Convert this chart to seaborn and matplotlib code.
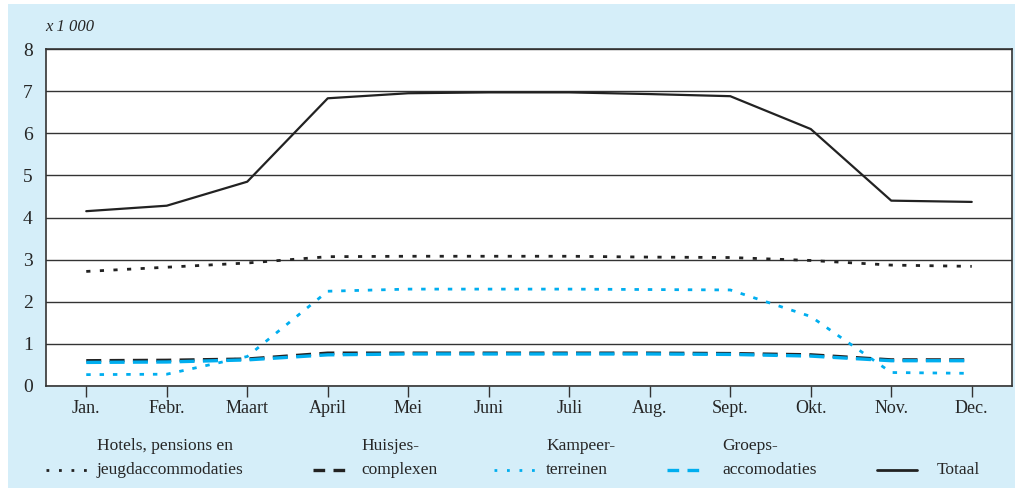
import pandas as pd
import matplotlib.pyplot as plt
import seaborn as sns
from matplotlib.patches import Rectangle
from matplotlib.lines import Line2D

# Data (x 1 000)
maanden = ['Jan.', 'Febr.', 'Maart', 'April', 'Mei', 'Juni', 'Juli', 'Aug.', 'Sept.', 'Okt.', 'Nov.', 'Dec.']
hotels = [2.72, 2.82, 2.92, 3.07, 3.08, 3.08, 3.08, 3.06, 3.05, 2.98, 2.87, 2.84]
huisjes = [0.60, 0.61, 0.64, 0.78, 0.78, 0.78, 0.78, 0.78, 0.77, 0.74, 0.62, 0.62]
kampeer = [0.27, 0.28, 0.70, 2.25, 2.30, 2.30, 2.30, 2.29, 2.28, 1.65, 0.32, 0.30]
groeps = [0.56, 0.57, 0.62, 0.74, 0.76, 0.76, 0.76, 0.76, 0.75, 0.71, 0.60, 0.60]
totaal = [4.15, 4.28, 4.85, 6.83, 6.95, 6.97, 6.97, 6.93, 6.88, 6.10, 4.40, 4.37]

BLUE = '#00AEEF'
BG = '#D5EEF9'
FONT = ['Liberation Serif', 'DejaVu Serif']

df = pd.DataFrame({'x': range(len(maanden)), 'hotels': hotels, 'huisjes': huisjes,
                   'kampeer': kampeer, 'groeps': groeps, 'totaal': totaal})

sns.set_style('white')
plt.rcParams['font.family'] = FONT

fig = plt.figure(figsize=(10.15, 4.88), dpi=100)
fig.patches.append(Rectangle((8 / 1015, 0), 1, 484 / 488, transform=fig.transFigure,
                             facecolor=BG, edgecolor='none', zorder=-10))
ax = fig.add_axes([46 / 1015, 1 - 386 / 488, (1012 - 46) / 1015, (386 - 49) / 488])
ax.set_facecolor('white')

# series: (kolom, kleur, lijnstijl, dikte)
series = [
    ('hotels', '#222222', (0, (1.5, 3.4)), 2.0),
    ('kampeer', BLUE, (0, (1.6, 3.2)), 2.0),
    ('huisjes', '#222222', (0, (4.5, 2.5)), 2.4),
    ('groeps', BLUE, (0, (4.5, 2.5)), 2.4),
    ('totaal', '#222222', '-', 1.6),
]
for col, kleur, ls, lw in series:
    sns.lineplot(data=df, x='x', y=col, ax=ax, color=kleur, linestyle=ls, linewidth=lw, zorder=3)

ax.set_xlim(-0.5, 11.5)
ax.set_ylim(0, 8)
ax.set_yticks(range(0, 9))
ax.set_xticks(range(len(maanden)))
ax.set_xticklabels(maanden)
ax.grid(axis='y', color='#333333', linewidth=1.0, zorder=1)
ax.grid(axis='x', visible=False)
ax.set_axisbelow(True)
for s in ax.spines.values():
    s.set_color('#333333')
    s.set_linewidth(1.2)
ax.tick_params(axis='x', bottom=True, length=8, width=1, color='#333333', pad=2, labelsize=13)
ax.tick_params(axis='y', left=False, pad=6, labelsize=14)
ax.set_xlabel('')
ax.set_ylabel('')

fig.text(45 / 1015, 1 - 27 / 488, 'x 1 000', fontsize=12, style='italic', va='center', ha='left')

# legenda onderaan
def px(x, y):
    return x / 1015, 1 - y / 488

legenda = [
    (46, 92, '#222222', (0, (1.0, 3.5)), 2.0, 97, 'Hotels, pensions en\njeugdaccommodaties'),
    (313, 346, '#222222', (0, (3.5, 2.5)), 2.4, 361, 'Huisjes-\ncomplexen'),
    (494, 536, BLUE, (0, (1.0, 3.5)), 2.0, 546, 'Kampeer-\nterreinen'),
    (667, 701, BLUE, (0, (3.5, 2.5)), 2.4, 722, 'Groeps-\naccomodaties'),
    (877, 917, '#222222', '-', 2.0, 937, 'Totaal'),
]
for x0, x1, kleur, ls, lw, tx, label in legenda:
    (fx0, fy), (fx1, _) = px(x0, 470), px(x1, 470)
    fig.add_artist(Line2D([fx0, fx1], [fy, fy], transform=fig.transFigure,
                          color=kleur, linestyle=ls, linewidth=lw))
    fig.text(tx / 1015, 1 - 474 / 488, label, fontsize=12.5, ha='left', va='baseline',
             linespacing=1.7)

fig.savefig('out.png', dpi=100, facecolor='white')
